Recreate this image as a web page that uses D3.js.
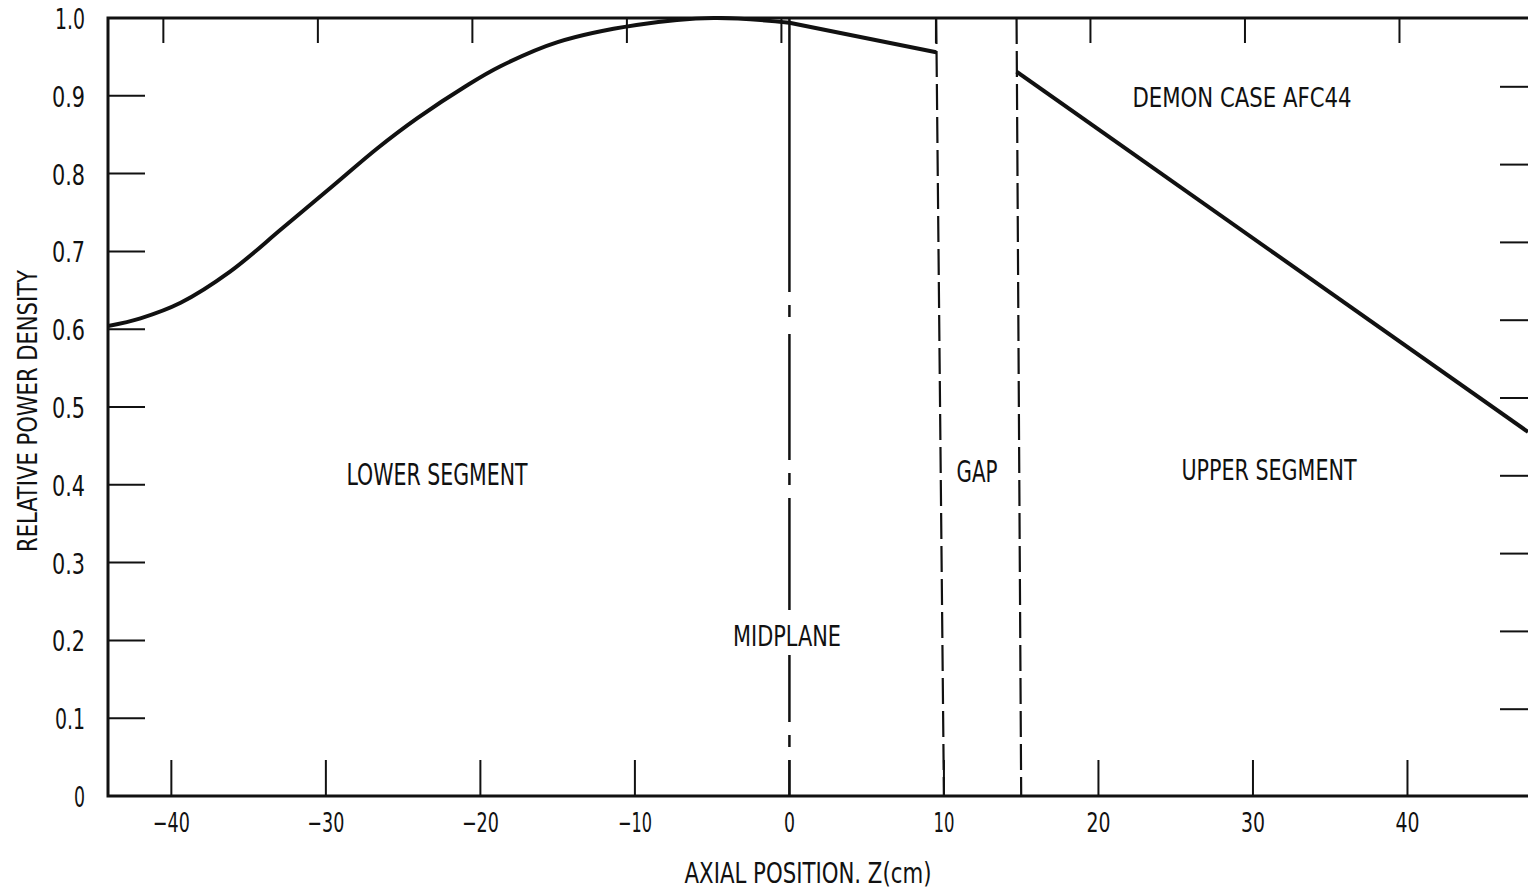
<!DOCTYPE html>
<html>
<head>
<meta charset="utf-8">
<script src="https://cdn.jsdelivr.net/npm/d3@7"></script>
<style>
  body { margin: 0; background: #fff; }
  svg text { font-family: "Liberation Sans Narrow", "DejaVu Sans Condensed", sans-serif; fill: #111; }
</style>
</head>
<body>
<div id="chart"></div>
<script>
// relative power density vs axial position (cm)
const lowerSegment = [
    [-44.1, 0.604], [-42.0, 0.614], [-39.4, 0.634], [-36.2, 0.674], [-32.8, 0.730],
    [-29.5, 0.785], [-26.7, 0.832], [-24.1, 0.871], [-20.9, 0.913], [-18.7, 0.938],
    [-15.0, 0.969], [-9.9, 0.991], [-4.9, 1.000], [0.0, 0.994], [9.5, 0.956]
];
const upperSegment = [[14.7, 0.931], [47.8, 0.468]];

const xTicks = [-40, -30, -20, -10, 0, 10, 20, 30, 40];
const yTicks = [0, 0.1, 0.2, 0.3, 0.4, 0.5, 0.6, 0.7, 0.8, 0.9, 1.0];
const yTickLabels = ["0", "0.1", "0.2", "0.3", "0.4", "0.5", "0.6", "0.7", "0.8", "0.9", "1.0"];

const midplaneZ = 0;
// gap boundaries (top / bottom position, lines lean a little in the scan)
const gapLines = [{top: 9.5, bottom: 10.0}, {top: 14.7, bottom: 15.0}];

const width = 1528, height = 891;
const pLeft = 108, pRight = 1528, pTop = 18, pBottom = 796;

const x = d3.scaleLinear().domain([-44.1, 47.8]).range([pLeft, pRight]);
const y = d3.scaleLinear().domain([0, 1]).range([pBottom, pTop]);

const svg = d3.select("#chart").append("svg")
    .attr("width", width)
    .attr("height", height);

svg.append("defs").append("clipPath").attr("id", "plot")
    .append("rect").attr("x", pLeft).attr("y", pTop - 2)
    .attr("width", pRight - pLeft).attr("height", pBottom - pTop + 4);

// rough width of the narrow lettering used on the original
function textWidth(s) {
    let w = 0;
    for (const c of s) w += c === "1" ? 8 : c === "." ? 7 : 11;
    return w + 2 * (s.length - 1);
}

// bottom ticks (inside, pointing up)
svg.append("g").selectAll("line").data(xTicks).enter().append("line")
    .attr("x1", d => x(d)).attr("x2", d => x(d))
    .attr("y1", pBottom).attr("y2", pBottom - 36)
    .attr("stroke", "#111").attr("stroke-width", 2);

// top ticks
svg.append("g").selectAll("line").data(xTicks).enter().append("line")
    .attr("x1", d => x(d) - 8).attr("x2", d => x(d) - 8)
    .attr("y1", pTop).attr("y2", pTop + 25)
    .attr("stroke", "#111").attr("stroke-width", 2);

// left ticks
const inner = yTicks.filter(d => d > 0 && d < 1);
svg.append("g").selectAll("line").data(inner).enter().append("line")
    .attr("x1", pLeft).attr("x2", pLeft + 37)
    .attr("y1", d => y(d)).attr("y2", d => y(d))
    .attr("stroke", "#111").attr("stroke-width", 2);

// right ticks
svg.append("g").selectAll("line").data(inner).enter().append("line")
    .attr("x1", pRight - 28).attr("x2", pRight)
    .attr("y1", d => y(d) - 9).attr("y2", d => y(d) - 9)
    .attr("stroke", "#111").attr("stroke-width", 2);

// frame
svg.append("path")
    .attr("d", `M${pRight},${pTop}H${pLeft}V${pBottom}H${pRight}`)
    .attr("fill", "none").attr("stroke", "#111").attr("stroke-width", 3);

// tick labels
const xFmt = d => d < 0 ? "\u2212" + Math.abs(d) : String(d);
svg.append("g").selectAll("text").data(xTicks).enter().append("text")
    .attr("x", d => x(d)).attr("y", pBottom + 36)
    .attr("text-anchor", "middle").attr("font-size", 27)
    .attr("textLength", d => textWidth(xFmt(d))).attr("lengthAdjust", "spacingAndGlyphs")
    .text(xFmt);

svg.append("g").selectAll("text").data(yTicks).enter().append("text")
    .attr("x", 85).attr("y", d => y(d) + 11)
    .attr("text-anchor", "end").attr("font-size", 28)
    .attr("textLength", (d, i) => textWidth(yTickLabels[i])).attr("lengthAdjust", "spacingAndGlyphs")
    .text((d, i) => yTickLabels[i]);

// midplane (hand-drawn dash-dot, irregular like the original)
svg.append("line")
    .attr("x1", x(midplaneZ)).attr("x2", x(midplaneZ))
    .attr("y1", pTop).attr("y2", pBottom)
    .attr("stroke", "#111").attr("stroke-width", 2.5)
    .attr("stroke-dasharray", "274,13,12,17,126,13,12,13,112,45,67,13,12,13,120");

// gap boundaries (dashed)
svg.append("g").selectAll("line").data(gapLines).enter().append("line")
    .attr("x1", d => x(d.top)).attr("x2", d => x(d.bottom))
    .attr("y1", pTop).attr("y2", pBottom)
    .attr("stroke", "#111").attr("stroke-width", 2.2)
    .attr("stroke-dasharray", "26,7");

// power curves: smooth up to the midplane, straight to the gap
const smooth = d3.line().x(d => x(d[0])).y(d => y(d[1])).curve(d3.curveCatmullRom.alpha(0.5));
const straight = d3.line().x(d => x(d[0])).y(d => y(d[1]));
const iMid = lowerSegment.findIndex(d => d[0] === midplaneZ);
const curves = svg.append("g").attr("clip-path", "url(#plot)")
    .attr("fill", "none").attr("stroke", "#111").attr("stroke-width", 4)
    .attr("stroke-linejoin", "round");
curves.append("path").datum(lowerSegment.slice(0, iMid + 1)).attr("d", smooth);
curves.append("path").datum(lowerSegment.slice(iMid)).attr("d", straight);
curves.append("path").datum(upperSegment).attr("d", straight);

// annotations
function label(txt, cx, by, len, size) {
    return svg.append("text")
        .attr("x", cx).attr("y", by)
        .attr("text-anchor", "middle")
        .attr("font-size", size)
        .attr("textLength", len).attr("lengthAdjust", "spacingAndGlyphs")
        .text(txt);
}

// white patch where the midplane line is broken by its label
svg.append("rect").attr("x", 730).attr("y", 616).attr("width", 114).attr("height", 38).attr("fill", "#fff");

label("LOWER SEGMENT", 437, 485, 181, 30);
label("MIDPLANE", 787, 646, 108, 29);
label("GAP", 977, 482, 41, 30);
label("UPPER SEGMENT", 1269, 480, 175, 29);
label("DEMON  CASE AFC44", 1242, 107, 219, 26);
label("AXIAL POSITION. Z(cm)", 808, 883, 247, 29);

svg.append("text")
    .attr("transform", "translate(37,411) rotate(-90)")
    .attr("text-anchor", "middle").attr("font-size", 27)
    .attr("textLength", 282).attr("lengthAdjust", "spacingAndGlyphs")
    .text("RELATIVE POWER DENSITY");
</script>
</body>
</html>
